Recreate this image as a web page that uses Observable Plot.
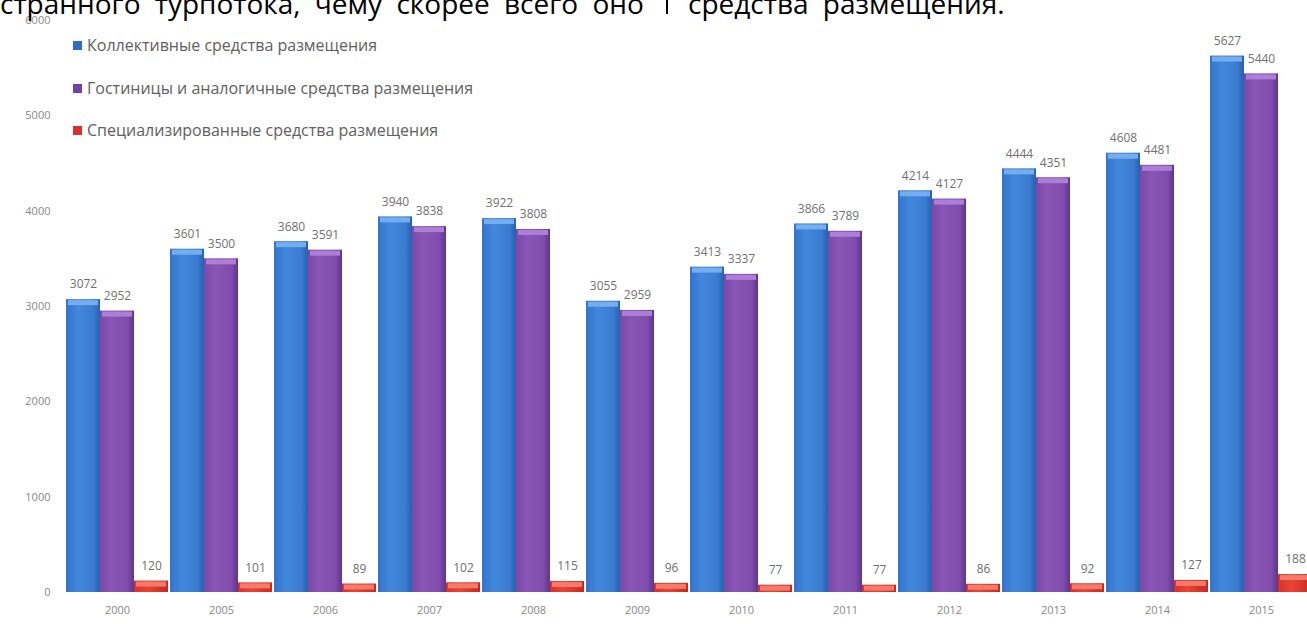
<!DOCTYPE html>
<html>
<head>
<meta charset="utf-8">
<script src="https://cdn.jsdelivr.net/npm/d3@7"></script>
<script src="https://cdn.jsdelivr.net/npm/@observablehq/plot@0.6"></script>
<style>
  html, body { margin: 0; padding: 0; background: #fff; overflow: hidden; }
  #wrap { position: relative; width: 1307px; height: 624px; overflow: hidden; }
  .doc { position: absolute; top: -13px; font-family: "Open Sans", sans-serif; font-size: 28px; line-height: 32px; color: #000; white-space: pre; word-spacing: 7px; }
  #cursor { position: absolute; left: 666px; top: 0; width: 2px; height: 14px; background: #000; }
  #legend { position: absolute; left: 73px; top: 34px; font-family: "Open Sans", sans-serif; font-size: 16px; color: #606060; }
  #legend .item { height: 42.5px; display: flex; align-items: flex-start; }
  #legend .sw { width: 9px; height: 9px; margin-right: 5px; margin-top: 7px; flex: none; }
  #chart svg { display: block; }
</style>
</head>
<body>
<div id="wrap">
  <svg width="0" height="0" style="position:absolute">
    <defs>
      <linearGradient id="gBlue" x1="0" x2="1" y1="0" y2="0">
        <stop offset="0" stop-color="#3474cc"/>
        <stop offset="0.35" stop-color="#4288dc"/>
        <stop offset="0.8" stop-color="#3a7bd0"/>
        <stop offset="1" stop-color="#2a5fae"/>
      </linearGradient>
      <linearGradient id="gPurple" x1="0" x2="1" y1="0" y2="0">
        <stop offset="0" stop-color="#7a48a8"/>
        <stop offset="0.35" stop-color="#8a56b6"/>
        <stop offset="0.8" stop-color="#7f4dad"/>
        <stop offset="1" stop-color="#5e3688"/>
      </linearGradient>
      <linearGradient id="gRed" x1="0" x2="1" y1="0" y2="0">
        <stop offset="0" stop-color="#d8302a"/>
        <stop offset="0.4" stop-color="#ea4434"/>
        <stop offset="1" stop-color="#c42a22"/>
      </linearGradient>
    </defs>
  </svg>
  <div id="chart"></div>
  <div id="legend"></div>
  <div class="doc" style="left:0">странного турпотока, чему скорее всего оно</div>
  <div id="cursor"></div>
  <div class="doc" style="left:688px">средства размещения.</div>
</div>
<script>
const years = ["2000","2005","2006","2007","2008","2009","2010","2011","2012","2013","2014","2015"];
const seriesNames = [
  "Коллективные средства размещения",
  "Гостиницы и аналогичные средства размещения",
  "Специализированные средства размещения"
];
const collective  = [3072,3601,3680,3940,3922,3055,3413,3866,4214,4444,4608,5627];
const hotels      = [2952,3500,3591,3838,3808,2959,3337,3789,4127,4351,4481,5440];
const specialized = [120,101,89,102,115,96,77,77,86,92,127,188];
const yTicks = [0,1000,2000,3000,4000,5000,6000];

const fills = ["url(#gBlue)","url(#gPurple)","url(#gRed)"];
const caps = ["#74aef0","#ab7fd6","#f57a6a"];
const swatch = ["#2f6cc6","#7440a6","#d9302a"];

const seriesValues = [collective, hotels, specialized];
const data = [];
years.forEach((yr, i) => {
  seriesNames.forEach((s, k) => {
    data.push({year: yr, series: s, k, value: seriesValues[k][i]});
  });
});

const chart = Plot.plot({
  width: 1307,
  height: 624,
  marginTop: 20,
  marginBottom: 32,
  marginLeft: 63,
  marginRight: -8,
  style: {fontFamily: "'Open Sans', sans-serif", fontSize: "11px", color: "#888"},
  fx: {domain: years, padding: 0, label: null, axis: "bottom", tickSize: 0, tickPadding: 14},
  x: {domain: seriesNames, padding: 0, axis: null},
  y: {domain: [0, 6000], ticks: yTicks, tickSize: 0, tickPadding: 15, label: null, tickFormat: d => String(d)},
  marks: [
    Plot.barY(data, {fx: "year", x: "series", y: "value", fill: d => fills[d.k]}),
    Plot.tickY(data, {fx: "year", x: "series", y: "value", stroke: d => caps[d.k], strokeWidth: 5, dy: 3, insetLeft: 2, insetRight: 2}),
    Plot.text(data, {fx: "year", x: "series", y: "value", text: d => String(d.value), dy: -15, fill: "#707070", fontSize: 12})
  ]
});
document.getElementById("chart").appendChild(chart);

const legend = document.getElementById("legend");
seriesNames.forEach((s, k) => {
  const item = document.createElement("div");
  item.className = "item";
  const sw = document.createElement("span");
  sw.className = "sw";
  sw.style.background = swatch[k];
  const t = document.createElement("span");
  t.textContent = s;
  item.appendChild(sw);
  item.appendChild(t);
  legend.appendChild(item);
});
</script>
</body>
</html>
